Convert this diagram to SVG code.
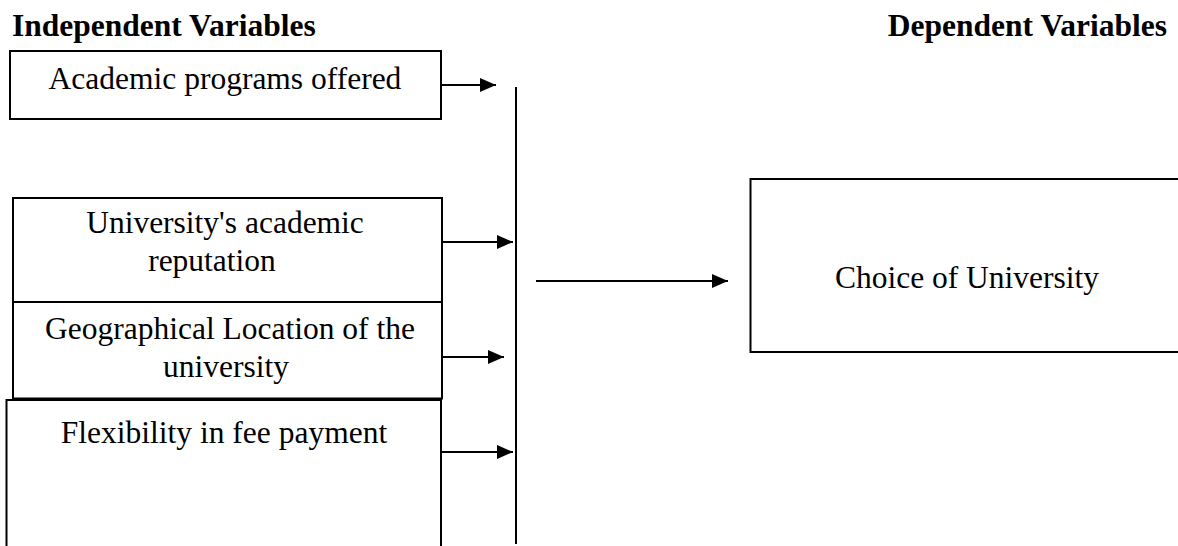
<svg xmlns="http://www.w3.org/2000/svg" width="1178" height="546" viewBox="0 0 1178 546">
  <style>
    .box { fill: #ffffff; stroke: #000000; stroke-width: 2; }
    .t { font-family: "Liberation Serif", "Times New Roman", serif; font-size: 31.5px; fill: #000000; text-anchor: middle; }
    .h { font-family: "Liberation Serif", "Times New Roman", serif; font-size: 31.5px; font-weight: bold; fill: #000000; }
    .ln { stroke: #000000; stroke-width: 2; fill: none; }
  </style>
  <defs>
    <marker id="ah" markerUnits="userSpaceOnUse" markerWidth="16" markerHeight="14" refX="16" refY="7" orient="auto">
      <path d="M0,0 L16,7 L0,14 z" fill="#000000"/>
    </marker>
  </defs>
  <rect width="1178" height="546" fill="#ffffff"/>

  <g id="headers">
    <text class="h" x="12" y="36">Independent Variables</text>
    <text class="h" x="1167" y="36" text-anchor="end">Dependent Variables</text>
  </g>

  <g id="node-academic-programs">
    <rect class="box" x="10" y="51" width="431" height="68"/>
    <text class="t" x="225" y="89">Academic programs offered</text>
  </g>

  <g id="node-reputation">
    <rect class="box" x="13" y="198" width="429" height="104"/>
    <text class="t" x="225" y="233">University's academic</text>
    <text class="t" x="212" y="271">reputation</text>
  </g>

  <g id="node-location">
    <rect class="box" x="13" y="302" width="429" height="96.5"/>
    <text class="t" x="230" y="339">Geographical Location of the</text>
    <text class="t" x="226" y="377">university</text>
  </g>

  <g id="node-fee">
    <path class="ln" d="M6.5,560 L6.5,400 L441,400 L441,560"/>
    <text class="t" x="224" y="443">Flexibility in fee payment</text>
  </g>

  <g id="node-choice">
    <path class="ln" d="M1190,179 L750.5,179 L750.5,352 L1190,352"/>
    <text class="t" x="967" y="288">Choice of University</text>
  </g>

  <g id="connectors">
    <line class="ln" x1="516" y1="87" x2="516" y2="544"/>
    <line class="ln" x1="441" y1="85" x2="496" y2="85" marker-end="url(#ah)"/>
    <line class="ln" x1="442" y1="242" x2="513" y2="242" marker-end="url(#ah)"/>
    <line class="ln" x1="442" y1="357" x2="504" y2="357" marker-end="url(#ah)"/>
    <line class="ln" x1="441" y1="452" x2="513" y2="452" marker-end="url(#ah)"/>
    <line class="ln" x1="536" y1="281" x2="728" y2="281" marker-end="url(#ah)"/>
  </g>
</svg>
